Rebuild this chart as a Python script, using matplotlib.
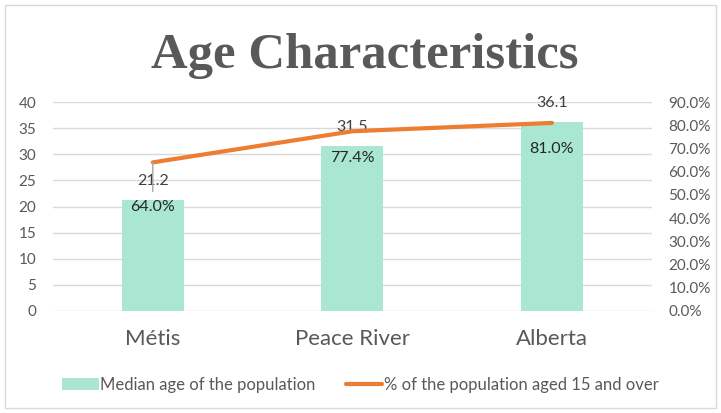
import matplotlib.pyplot as plt
from matplotlib.patches import Rectangle
from matplotlib.ticker import PercentFormatter

# Data
categories = ["Métis", "Peace River", "Alberta"]
median_age = [21.2, 31.5, 36.1]
pct_15_over = [0.640, 0.774, 0.810]

bar_color = "#A9E7D3"
line_color = "#ED7D31"
text_color = "#595959"


def main():
    plt.rcParams['font.family'] = ['Lato', 'DejaVu Sans']
    fig = plt.figure(figsize=(7.21, 4.13), dpi=100)
    ax = fig.add_axes([0.0735, 0.247, 0.8305, 0.506])
    ax2 = ax.twinx()

    x = list(range(len(categories)))
    bars = ax.bar(x, median_age, width=0.31, color=bar_color, zorder=2,
                  label="Median age of the population")
    ax.set_xlim(-0.5, 2.5)
    ax.set_ylim(0, 40)
    ax.set_yticks(range(0, 41, 5))
    ax.grid(axis='y', color="#D9D9D9", lw=1, zorder=0)
    ax.set_axisbelow(True)
    ax.set_xticks(x)
    ax.set_xticklabels(categories, fontsize=16, color=text_color)
    ax.tick_params(axis='x', length=0, pad=13)
    ax.tick_params(axis='y', length=0, labelsize=11, labelcolor=text_color, pad=12)

    line, = ax2.plot(x, pct_15_over, color=line_color, lw=3, solid_capstyle='round',
                     label="% of the population aged 15 and over", zorder=3)
    ax2.set_ylim(0, 0.9)
    ax2.set_yticks([i / 10 for i in range(10)])
    ax2.yaxis.set_major_formatter(PercentFormatter(1.0, decimals=1))
    ax2.tick_params(axis='y', length=0, labelsize=11, labelcolor=text_color, pad=12)

    for a in (ax, ax2):
        for s in a.spines.values():
            s.set_visible(False)

    # Bar value labels, above the bars
    for xi, v in zip(x, median_age):
        ax.annotate(f"{v:.1f}", (xi, v), xytext=(0, 14), textcoords='offset points',
                    ha='center', va='center', fontsize=11.5, color="#404040")

    # Line value labels (Métis one moved down, with a leader line)
    offsets = [-32, -19, -19]
    for xi, v, off in zip(x, pct_15_over, offsets):
        if xi == 0:
            ax2.annotate("", (xi, v), xytext=(0, -21), textcoords='offset points',
                         arrowprops=dict(arrowstyle='-', color="#A6A6A6", lw=1,
                                         shrinkA=0, shrinkB=0))
        ax2.annotate(f"{v * 100:.1f}%", (xi, v), xytext=(0, off), textcoords='offset points',
                     ha='center', va='center', fontsize=11.5, color="#262626", zorder=5)

    fig.text(0.506, 0.835, "Age Characteristics", ha='center', va='baseline',
             fontsize=36.5, fontweight='bold', color=text_color,
             family=['Liberation Serif', 'DejaVu Serif'])

    fig.legend([bars, line], [bars.get_label(), line.get_label()], loc='center',
               bbox_to_anchor=(0.5, 0.068), ncol=2, frameon=False, fontsize=12,
               labelcolor=text_color, handlelength=2.2, handletextpad=0.1,
               columnspacing=1.8)

    fig.patches.append(Rectangle((0.007, 0.012), 0.986, 0.976, transform=fig.transFigure,
                                 fill=False, edgecolor="#D9D9D9", lw=1))

    fig.savefig("out.png", dpi=100)


if __name__ == "__main__":
    main()
